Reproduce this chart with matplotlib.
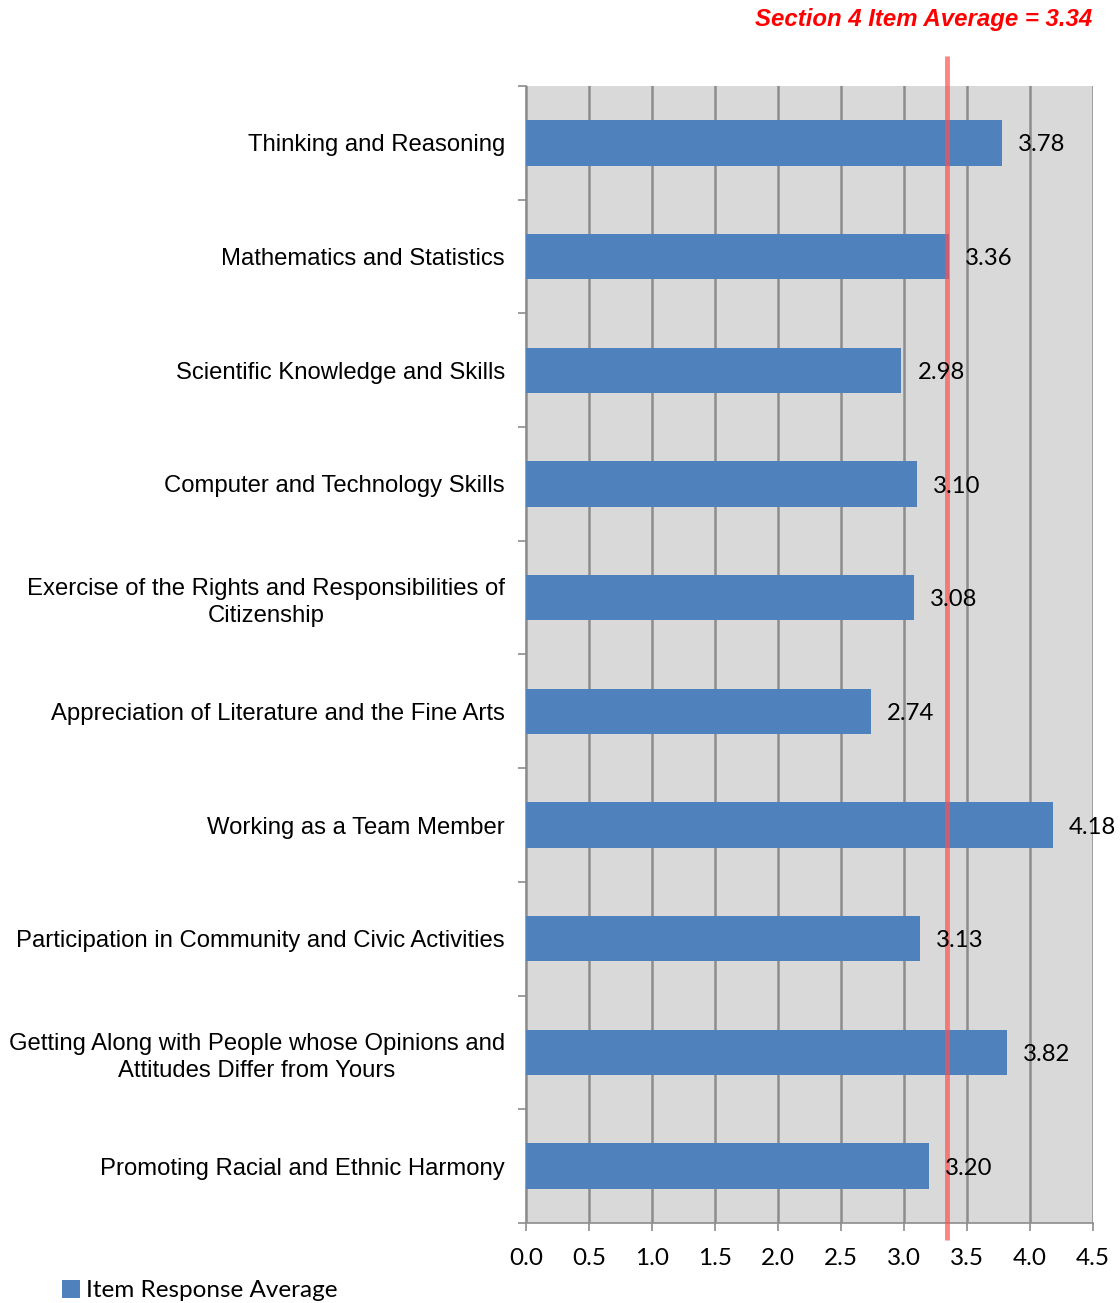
import matplotlib
matplotlib.use("Agg")
import matplotlib.pyplot as plt
from matplotlib.patches import Patch

categories = [
    "Thinking and Reasoning",
    "Mathematics and Statistics",
    "Scientific Knowledge and Skills",
    "Computer and Technology Skills",
    "Exercise of the Rights and Responsibilities of\nCitizenship",
    "Appreciation of Literature and the Fine Arts",
    "Working as a Team Member",
    "Participation in Community and Civic Activities",
    "Getting Along with People whose Opinions and\nAttitudes Differ from Yours",
    "Promoting Racial and Ethnic Harmony",
]
values = [3.78, 3.36, 2.98, 3.10, 3.08, 2.74, 4.18, 3.13, 3.82, 3.20]
section_average = 3.34
x_ticks = [0.0, 0.5, 1.0, 1.5, 2.0, 2.5, 3.0, 3.5, 4.0, 4.5]

label_font = "Liberation Sans"
num_font = ["Lato", "DejaVu Sans"]
bar_color = "#4f81bd"
grid_color = "#8c8c8c"

fig = plt.figure(figsize=(11.2, 13.03), dpi=100)
ax = fig.add_axes([0.4696, 0.0614, 0.5063, 0.8726])
ax.set_facecolor("#d9d9d9")

n = len(categories)
ypos = list(range(n))
ax.barh(ypos, values, height=0.40, color=bar_color, zorder=3)
ax.set_ylim(n - 0.5, -0.5)
ax.set_xlim(0, 4.5)

# category boundaries carry the y ticks
ax.set_yticks([i - 0.5 for i in range(n + 1)], minor=False)
ax.set_yticklabels([])
ax.set_yticks(ypos, minor=True)
ax.set_yticklabels(categories, minor=True, fontsize=17.2, family=label_font,
                   ha="right", multialignment="center", linespacing=1.3)
ax.tick_params(axis="y", which="minor", length=0, pad=15)
ax.tick_params(axis="y", which="major", length=6, width=1.2, color=grid_color)

ax.set_xticks(x_ticks)
ax.set_xticklabels([f"{t:.1f}" for t in x_ticks], fontsize=17.5, family=num_font)
ax.tick_params(axis="x", length=6, width=1.2, color=grid_color, pad=12)

ax.grid(axis="x", color=grid_color, linewidth=1.8, zorder=1)
ax.set_axisbelow(True)
for side in ("top", "right"):
    ax.spines[side].set_visible(False)
for side in ("left", "bottom"):
    ax.spines[side].set_color(grid_color)
    ax.spines[side].set_linewidth(1.2)

for y, v in zip(ypos, values):
    ax.annotate(f"{v:.2f}", xy=(v, y), xytext=(11.5, -1.5), textcoords="offset points",
                ha="left", va="center", fontsize=17.2, family=num_font,
                color="black", zorder=5)

# section average marker
ax.plot([section_average, section_average], [-0.015, 1.026], color="#ff5050",
        alpha=0.7, linewidth=3.5, transform=ax.get_xaxis_transform(),
        clip_on=False, zorder=4, solid_capstyle="butt")
fig.text(0.975, 0.985, f"Section 4 Item Average = {section_average:.2f}",
         color="red", fontsize=17.3, fontweight="bold", fontstyle="italic",
         family=label_font, ha="right", va="center")

handle = Patch(facecolor=bar_color, edgecolor="none")
fig.legend([handle], ["Item Response Average"], loc="lower left",
           bbox_to_anchor=(0.0355, -0.0155), frameon=False,
           prop={"family": num_font, "size": 17.5},
           handlelength=0.75, handleheight=0.75, handletextpad=0.25)

fig.savefig("out.png", dpi=100, facecolor="white")
